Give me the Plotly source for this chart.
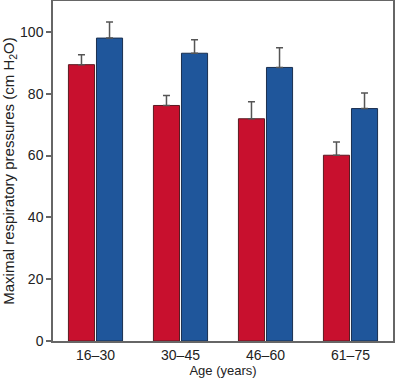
import plotly.graph_objects as go

categories = ["16–30", "30–45", "46–60", "61–75"]
red_values = [89.4, 76.2, 71.9, 60.1]
red_err = [3.2, 3.2, 5.5, 4.3]
blue_values = [98.0, 93.1, 88.5, 75.2]
blue_err = [5.2, 4.4, 6.4, 5.0]

fig = go.Figure()
fig.add_trace(go.Bar(
    x=categories, y=red_values,
    marker=dict(color="#C8102E", line=dict(color="#5a1a22", width=1)),
    error_y=dict(type="data", symmetric=False, array=red_err, arrayminus=[0]*4,
                 color="#555555", thickness=1.5, width=3.5),
    showlegend=False,
))
fig.add_trace(go.Bar(
    x=categories, y=blue_values,
    marker=dict(color="#1F569B", line=dict(color="#1a2f4f", width=1)),
    error_y=dict(type="data", symmetric=False, array=blue_err, arrayminus=[0]*4,
                 color="#555555", thickness=1.5, width=3.5),
    showlegend=False,
))

fig.update_layout(
    width=395, height=379,
    margin=dict(l=53, r=2, t=1, b=38),
    barmode="group", bargap=0.34, bargroupgap=0.07,
    plot_bgcolor="white", paper_bgcolor="white",
    font=dict(family="Liberation Sans, Arial, sans-serif", size=13, color="#222222"),
    xaxis=dict(
        title=dict(text="Age (years)", font=dict(size=13), standoff=2),
        automargin=False,
        showline=True, linecolor="#666666", linewidth=1.5, mirror=True,
        ticks="", tickfont=dict(size=14),
        range=[-0.5, 3.5],
    ),
    yaxis=dict(
        title=dict(text="Maximal respiratory pressures (cm H<sub>2</sub>O)", font=dict(size=15), standoff=2),
        automargin=False,
        range=[0, 110], tickvals=[0, 20, 40, 60, 80, 100],
        showline=True, linecolor="#666666", linewidth=1.5, mirror=True,
        ticks="outside", ticklen=5, tickcolor="#666666", tickwidth=1.5,
        showgrid=False, zeroline=False, tickfont=dict(size=14),
    ),
)

fig.write_html("out.html", config={"displayModeBar": False},
               post_script="document.body.style.margin='0';document.body.style.overflow='hidden';")
